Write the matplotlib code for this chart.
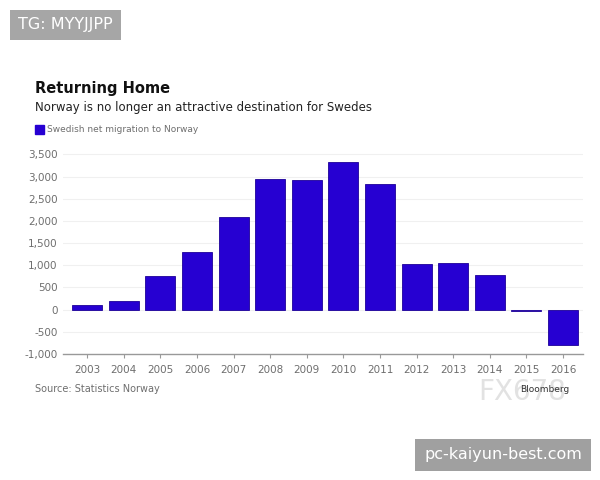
import numpy as np
from matplotlib import pyplot as plt

years = ['2003', '2004', '2005', '2006', '2007', '2008', '2009',
         '2010', '2011', '2012', '2013', '2014', '2015', '2016']
migration = [110, 190, 770, 1290, 2100, 2950, 2930,
             3320, 2840, 1035, 1050, 780, -30, -790]
yticks = [-1000, -500, 0, 500, 1000, 1500, 2000, 2500, 3000, 3500]

bar_color = '#2600d2'
grey = '#6e6e6e'

fig = plt.figure(figsize=(6, 4.8), dpi=100)
ax = fig.add_axes([0.105, 0.2625, 0.867, 0.425])

x = np.arange(len(years))
ax.bar(x, migration, width=0.82, color=bar_color, edgecolor='#1c0098',
       linewidth=0.6, zorder=3)

ax.set_xlim(-0.66, 13.55)
ax.set_ylim(-1000, 3600)
ax.set_xticks(x)
ax.set_xticklabels(years)
ax.set_yticks(yticks)
ax.set_yticklabels([f"{v:,}" for v in yticks])
ax.tick_params(axis='x', colors='#999999', labelcolor=grey, labelsize=7.5,
               length=3, width=0.8, pad=5)
ax.tick_params(axis='y', length=0, labelcolor=grey, labelsize=7.5, pad=4)

ax.grid(axis='y', color='#f0f0f0', linewidth=0.8, zorder=0)
for s in ['top', 'right', 'left']:
    ax.spines[s].set_visible(False)
ax.spines['bottom'].set_color('#999999')
ax.spines['bottom'].set_linewidth(1.0)

# titles and legend
fig.text(35/600, 1-89/480, 'Returning Home', fontsize=10.5, fontweight='bold',
         color='#111111', va='center')
fig.text(35/600, 1-107/480, 'Norway is no longer an attractive destination for Swedes',
         fontsize=8.5, color='#222222', va='center')
fig.patches.append(plt.Rectangle((35/600, 1-134/480), 9/600, 9/480,
                                 transform=fig.transFigure, color=bar_color))
fig.text(47/600, 1-129/480, 'Swedish net migration to Norway', fontsize=6.5,
         color=grey, va='center')
fig.text(35/600, 1-389/480, 'Source: Statistics Norway', fontsize=7,
         color=grey, va='center')

# watermarks
fig.text(478/600, 1-392/480, 'FX678', fontsize=20, color='#e2e2e2',
         va='center', ha='left', zorder=0)
fig.text(520/600, 1-389/480, 'Bloomberg', fontsize=6.5, color='#333333',
         va='center', ha='left', zorder=5)
fig.text(18/600, 1-25/480, 'TG: MYYJJPP', fontsize=11.5, color='white',
         va='center', ha='left',
         bbox=dict(boxstyle='square,pad=0.5', fc='#a6a6a6', ec='none'))
fig.text(424/600, 1-455/480, 'pc-kaiyun-best.com', fontsize=11.5, color='white',
         va='center', ha='left',
         bbox=dict(boxstyle='square,pad=0.55', fc='#a0a0a0', ec='none'))

plt.savefig('out.png', dpi=100, facecolor='white')
